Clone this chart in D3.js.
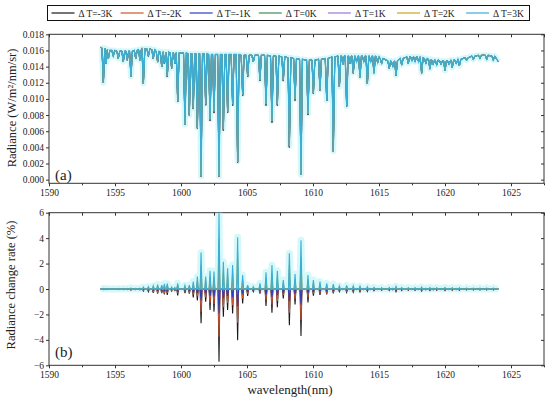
<!DOCTYPE html>
<html>
<head>
<meta charset="utf-8">
<script src="https://cdn.jsdelivr.net/npm/d3@7"></script>
<style>
  body { margin: 0; background: #fff; }
  text { font-family: "Liberation Serif", "Times New Roman", serif; fill: #222; }
</style>
</head>
<body>
<script>
// series (legend order = drawing order)
var seriesNames = ["\u0394 T=-3K", "\u0394 T=-2K", "\u0394 T=-1K", "\u0394 T=0K", "\u0394 T=1K", "\u0394 T=2K", "\u0394 T=3K"];
var seriesColors = ["#1a1a1a", "#cc5530", "#2b3fc0", "#3c9152", "#9a78d8", "#c9a619", "#3aaed6"];

// absorption lines: centre wavelength, local continuum, line minimum
var lineWl = [1594.12,1594.32,1594.50,1594.87,1595.25,1595.63,1595.93,1596.21,1596.57,1596.89,
  1597.15,1597.53,1597.90,1598.23,1598.54,1598.74,1598.96,1599.29,1599.54,1599.75,
  1600.30,1600.63,1600.93,1601.24,1601.52,1601.87,1602.20,1602.50,1602.88,1603.21,
  1603.53,1603.91,1604.29,1604.67,1605.05,1605.48,1605.98,1606.44,1606.89,1607.30,
  1607.75,1608.21,1608.64,1609.09,1609.62,1610.03,1610.53,1611.04,1611.54,1612.00,
  1612.27,1612.55,1612.80,1613.05,1613.30,1613.56,1613.85,1614.12,1614.37,1614.62,
  1614.90,1615.20,1615.78,1616.05,1616.29,1616.72,1617.22,1617.50,1617.73,1618.00,
  1618.23,1618.55,1618.86,1619.10,1619.37,1619.70,1620.00,1620.30,1620.55,1620.85,
  1621.09,1621.64,1622.15,1622.65,1623.16,1623.66];
var lineTop = [.0163,.0161,.0160,.0160,.0159,.0159,.0159,.0159,.0160,.0161,
  .0162,.0162,.0161,.0159,.0158,.0158,.0158,.0157,.0157,.0157,
  .0157,.0156,.0156,.0156,.0156,.0156,.0155,.0155,.0155,.0155,
  .0155,.0155,.0155,.0154,.0154,.0154,.0154,.0154,.0153,.0153,
  .0152,.0151,.0150,.0149,.0148,.0148,.0149,.0150,.0152,.0153,
  .0153,.0153,.0153,.0153,.0153,.0153,.0153,.0153,.0153,.0153,
  .0152,.0150,.0147,.0146,.0147,.0150,.0152,.0152,.0152,.0152,
  .0151,.0150,.0149,.0148,.0148,.0147,.0147,.0147,.0148,.0148,
  .0149,.0151,.0153,.0154,.0154,.0153];
var lineMin = [.0120,.0144,.0150,.0153,.0150,.0146,.0148,.0128,.0150,.0148,
  .0119,.0153,.0150,.0146,.0140,.0144,.0128,.0138,.0144,.0097,
  .0068,.0080,.0088,.0064,.0004,.0093,.0074,.0084,.0004,.0062,
  .0084,.0093,.0022,.0105,.0128,.0146,.0123,.0093,.0072,.0093,
  .0123,.0041,.0099,.0006,.0081,.0107,.0111,.0098,.0035,.0115,
  .0143,.0091,.0144,.0132,.0146,.0127,.0146,.0119,.0146,.0132,
  .0145,.0144,.0138,.0140,.0129,.0142,.0144,.0147,.0146,.0146,
  .0132,.0144,.0137,.0143,.0142,.0143,.0135,.0143,.0139,.0144,
  .0141,.0148,.0149,.0150,.0149,.0148];
var specStart = [1593.91, 0.01638];
var specEnd = [1624.04, 0.0146];

// radiance change rate (%) at each line, panel (b)
var rateM3 = [-.05,-.04,-.03,-.03,-.04,-.05,-.04,-.09,-.05,-.06,
  -.16,-.2,-.3,-.36,-.32,-.42,-.46,-.16,-.12,-.5,
  -.32,-.36,-.66,-.9,-2.7,-1.0,-1.65,-1.78,-5.73,-2.18,
  -1.65,-1.92,-4.02,-1.13,-.55,-.2,-.36,-1.34,-1.86,-1.44,
  -.74,-2.84,-1.21,-3.7,-1.05,-.52,-.47,-.42,-.34,-.21,
  -.05,-.26,-.05,-.24,-.05,-.22,-.05,-.18,-.05,-.13,
  -.04,-.1,-.12,-.06,-.2,-.12,-.1,-.05,-.1,-.05,
  -.15,-.06,-.12,-.06,-.1,-.05,-.12,-.05,-.1,-.05,
  -.1,-.08,-.08,-.08,-.08,-.08];
var rateM2 = [-.03,-.03,-.02,-.02,-.03,-.03,-.03,-.06,-.03,-.04,
  -.11,-.13,-.2,-.24,-.21,-.28,-.3,-.11,-.08,-.33,
  -.21,-.24,-.44,-.59,-1.78,-.66,-1.09,-1.17,-3.76,-1.44,
  -1.09,-1.27,-2.65,-.75,-.36,-.13,-.24,-.88,-1.23,-.95,
  -.49,-1.87,-.8,-2.44,-.69,-.34,-.31,-.28,-.22,-.14,
  -.03,-.17,-.03,-.16,-.03,-.15,-.03,-.12,-.03,-.09,
  -.03,-.07,-.08,-.04,-.13,-.08,-.07,-.03,-.07,-.03,
  -.1,-.04,-.08,-.04,-.07,-.03,-.08,-.03,-.07,-.03,
  -.07,-.05,-.05,-.05,-.05,-.05];
var rateM1 = [-.02,-.01,-.01,-.01,-.01,-.02,-.01,-.03,-.02,-.02,
  -.05,-.07,-.1,-.12,-.11,-.14,-.15,-.05,-.04,-.17,
  -.11,-.12,-.22,-.3,-.9,-.34,-.55,-.6,-1.92,-.73,
  -.55,-.64,-1.35,-.38,-.18,-.07,-.12,-.45,-.62,-.48,
  -.25,-.95,-.41,-1.24,-.35,-.17,-.16,-.14,-.11,-.07,
  -.02,-.09,-.02,-.08,-.02,-.07,-.02,-.06,-.02,-.04,
  -.01,-.03,-.04,-.02,-.07,-.04,-.03,-.02,-.03,-.02,
  -.05,-.02,-.04,-.02,-.03,-.02,-.04,-.02,-.03,-.02,
  -.03,-.03,-.03,-.03,-.03,-.03];
var rate0 = [0,0,0,0,0,0,0,0,0,0, 0,0,0,0,0,0,0,0,0,0, 0,0,0,0,0,0,0,0,0,0,
  0,0,0,0,0,0,0,0,0,0, 0,0,0,0,0,0,0,0,0,0, 0,0,0,0,0,0,0,0,0,0,
  0,0,0,0,0,0,0,0,0,0, 0,0,0,0,0,0,0,0,0,0, 0,0,0,0,0,0];
var rateP1 = [.02,.01,.01,.01,.01,.02,.01,.03,.02,.02,
  .05,.06,.08,.12,.1,.13,.14,.05,.04,.15,
  .09,.1,.19,.32,.94,.32,.48,.45,1.97,.71,
  .54,.62,1.34,.36,.1,.06,.15,.43,.62,.48,
  .23,.93,.39,1.27,.36,.23,.19,.15,.13,.08,
  .02,.1,.02,.08,.02,.07,.02,.06,.02,.04,
  .01,.03,.04,.02,.07,.04,.03,.02,.03,.02,
  .05,.02,.04,.02,.03,.02,.04,.02,.03,.02,
  .03,.03,.03,.03,.03,.03];
var rateP2 = [.03,.03,.02,.02,.03,.03,.03,.05,.03,.04,
  .1,.12,.17,.23,.2,.26,.28,.1,.08,.3,
  .18,.2,.38,.64,1.89,.64,.95,.9,3.93,1.42,
  1.08,1.25,2.69,.73,.2,.12,.3,.86,1.25,.95,
  .47,1.85,.78,2.53,.73,.46,.38,.3,.26,.16,
  .03,.19,.03,.16,.03,.15,.03,.12,.03,.09,
  .03,.07,.08,.04,.13,.08,.07,.03,.07,.03,
  .1,.04,.08,.04,.07,.03,.08,.03,.07,.03,
  .07,.05,.05,.05,.05,.05];
var rateP3 = [.05,.04,.03,.03,.04,.05,.04,.08,.05,.06,
  .15,.18,.25,.35,.3,.4,.42,.15,.12,.45,
  .28,.3,.58,.97,2.86,.97,1.44,1.37,5.96,2.15,
  1.63,1.89,4.07,1.1,.3,.18,.45,1.31,1.89,1.44,
  .71,2.81,1.18,3.84,1.1,.7,.58,.45,.39,.24,
  .05,.29,.05,.24,.05,.22,.05,.18,.05,.13,
  .04,.1,.12,.06,.2,.12,.1,.05,.1,.05,
  .15,.06,.12,.06,.1,.05,.12,.05,.1,.05,
  .1,.08,.08,.08,.08,.08];
var rates = [rateM3, rateM2, rateM1, rate0, rateP1, rateP2, rateP3];

var xTicks = [1590, 1595, 1600, 1605, 1610, 1615, 1620, 1625];
var xMinor = [1592.5, 1597.5, 1602.5, 1607.5, 1612.5, 1617.5, 1622.5, 1627.5];
var yTicksA = [0, .002, .004, .006, .008, .010, .012, .014, .016, .018];
var yTicksB = [-6, -4, -2, 0, 2, 4, 6];

var width = 550, height = 399;
var halfW = 0.11, spikeW = 0.07;

var svg = d3.select("body").append("svg")
    .attr("width", width).attr("height", height);

var x = d3.scaleLinear().domain([1590, 1627.5]).range([49, 544]);
var yA = d3.scaleLinear().domain([-0.00045, 0.018]).range([183.3, 34.3]);
var yB = d3.scaleLinear().domain([-6, 6]).range([365.3, 212.7]);

function spectrum(k) {
  var pts = [specStart];
  for (var i = 0; i < lineWl.length; i++) {
    var m = lineMin[i] * (1 + rates[k][i] / 100);
    pts.push([lineWl[i] - halfW, lineTop[i]], [lineWl[i], m], [lineWl[i] + halfW, lineTop[i]]);
  }
  pts.push(specEnd);
  return pts;
}

function changeRate(k) {
  var pts = [[specStart[0], 0]];
  for (var i = 0; i < lineWl.length; i++) {
    pts.push([lineWl[i] - spikeW, 0], [lineWl[i], rates[k][i]], [lineWl[i] + spikeW, 0]);
  }
  pts.push([specEnd[0], 0]);
  return pts;
}

function panel(y, yTicks, fmt, clipId) {
  var g = svg.append("g");
  var r = y.range();
  g.append("clipPath").attr("id", clipId).append("rect")
    .attr("x", x.range()[0]).attr("y", r[1])
    .attr("width", x.range()[1] - x.range()[0]).attr("height", r[0] - r[1]);

  g.append("g").attr("transform", "translate(0," + r[0] + ")")
    .call(d3.axisBottom(x).tickValues(xTicks).tickSize(3).tickPadding(3).tickFormat(d3.format("d")));
  g.append("g").attr("transform", "translate(0," + r[0] + ")")
    .call(d3.axisBottom(x).tickValues(xMinor).tickSize(2).tickFormat(""));
  g.append("g").attr("transform", "translate(0," + r[1] + ")")
    .call(d3.axisTop(x).tickValues(xTicks.concat(xMinor)).tickSize(-3).tickFormat(""));
  g.append("g").attr("transform", "translate(" + x.range()[0] + ",0)")
    .call(d3.axisLeft(y).tickValues(yTicks).tickSize(3).tickPadding(2).tickFormat(fmt));
  g.append("g").attr("transform", "translate(" + x.range()[1] + ",0)")
    .call(d3.axisRight(y).tickValues(yTicks).tickSize(-3).tickFormat(""));

  g.selectAll(".domain").remove();
  g.selectAll(".tick line").attr("stroke", "#333");
  g.selectAll(".tick text").style("font-size", "9.5px").style("font-family", "Liberation Serif, serif").attr("fill", "#222");

  g.append("rect")
    .attr("x", x.range()[0]).attr("y", r[1])
    .attr("width", x.range()[1] - x.range()[0]).attr("height", r[0] - r[1])
    .attr("fill", "none").attr("stroke", "#333").attr("stroke-width", 1);
  return g;
}

var gA = panel(yA, yTicksA, d3.format(".3f"), "clipA");
var gB = panel(yB, yTicksB, d3.format("d"), "clipB");

var lineA = d3.line().x(function(d) { return x(d[0]); }).y(function(d) { return yA(d[1]); });
var lineB = d3.line().x(function(d) { return x(d[0]); }).y(function(d) { return yB(d[1]); });

// soft halo under the last series, as in the source image
gA.append("path").datum(spectrum(6)).attr("d", lineA).attr("clip-path", "url(#clipA)")
  .attr("fill", "none").attr("stroke", "#bff4f7").attr("stroke-width", 6)
  .attr("stroke-linejoin", "round").attr("opacity", 0.65);
gB.append("path").datum(changeRate(6)).attr("d", lineB).attr("clip-path", "url(#clipB)")
  .attr("fill", "none").attr("stroke", "#bff4f7").attr("stroke-width", 7)
  .attr("stroke-linejoin", "round").attr("opacity", 0.65);

for (var k = 0; k < seriesNames.length; k++) {
  var last = k === seriesNames.length - 1;
  gA.append("path").datum(spectrum(k)).attr("d", lineA)
    .attr("clip-path", "url(#clipA)")
    .attr("fill", "none").attr("stroke", seriesColors[k]).attr("stroke-width", last ? 1.3 : 0.9);
  gB.append("path").datum(changeRate(k)).attr("d", lineB)
    .attr("clip-path", "url(#clipB)")
    .attr("fill", "none").attr("stroke", seriesColors[k]).attr("stroke-width", 1.1);
}

gA.append("text").attr("x", 55).attr("y", 180).style("font-size", "15px").text("(a)");
gB.append("text").attr("x", 55).attr("y", 357).style("font-size", "15px").text("(b)");

svg.append("text")
  .attr("transform", "translate(16,108) rotate(-90)")
  .attr("text-anchor", "middle").style("font-size", "12.5px")
  .text("Radiance (W/m\u00b2/nm/sr)");
svg.append("text")
  .attr("transform", "translate(15,285) rotate(-90)")
  .attr("text-anchor", "middle").style("font-size", "12.5px")
  .text("Radiance change rate (%)");
svg.append("text")
  .attr("x", 290).attr("y", 394)
  .attr("text-anchor", "middle").style("font-size", "13px")
  .text("wavelength(nm)");

// legend
var legend = svg.append("g");
legend.append("rect").attr("x", 47.5).attr("y", 5.5).attr("width", 482).attr("height", 15)
  .attr("fill", "#fff").attr("stroke", "#111").attr("stroke-width", 1);
var item = legend.selectAll(".item").data(seriesNames).enter().append("g")
  .attr("transform", function(d, i) { return "translate(" + (51.5 + 69.1 * i) + ",0)"; });
item.append("line").attr("x1", 0).attr("x2", 23).attr("y1", 13).attr("y2", 13)
  .attr("stroke", function(d, i) { return seriesColors[i]; }).attr("stroke-width", 1.2);
item.append("text").attr("x", 27).attr("y", 16.5).style("font-size", "9.5px")
  .text(function(d) { return d; });
</script>
</body>
</html>
